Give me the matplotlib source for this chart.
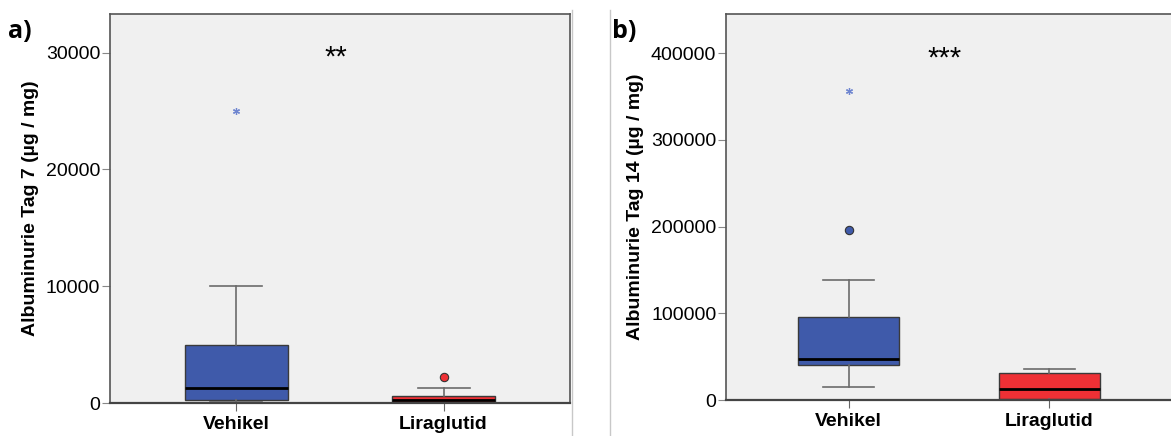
import matplotlib.pyplot as plt
from matplotlib.lines import Line2D

plt.rcParams['font.family'] = ['Liberation Sans', 'DejaVu Sans']

# Gruppen
groups = ['Vehikel', 'Liraglutid']
box_colors = ['#3F5AAA', '#EE3035']
star_color = '#6F86D0'

# Tag 7: [untere Antenne, Q1, Median, Q3, obere Antenne]
tag7_vehikel = [50, 230, 1300, 5000, 10000]
tag7_lira = [20, 100, 230, 600, 1300]
tag7_outliers = [[], [2260]]      # Kreise
tag7_extremes = [[25000], []]     # Sterne

# Tag 14
tag14_vehikel = [14600, 40700, 47300, 96000, 138800]
tag14_lira = [300, 800, 12700, 31100, 36100]
tag14_outliers = [[196000], []]
tag14_extremes = [[356800], []]

tag7_ticks = [0, 10000, 20000, 30000]
tag14_ticks = [0, 100000, 200000, 300000, 400000]


def make_stats(vals, label):
    lo, q1, med, q3, hi = vals
    return dict(whislo=lo, q1=q1, med=med, q3=q3, whishi=hi, fliers=[], label=label)


def draw_panel(ax, data, outliers, extremes, ticks, ymax, ylabel, sig):
    ax.set_facecolor('#F0F0F0')
    stats = [make_stats(v, g) for v, g in zip(data, groups)]
    bp = ax.bxp(stats, positions=[0, 1], widths=0.5, patch_artist=True,
                showfliers=False,
                boxprops=dict(edgecolor='#3a3a3a', linewidth=1.0),
                medianprops=dict(color='black', linewidth=2.0),
                whiskerprops=dict(color='#6b6b6b', linewidth=1.2),
                capprops=dict(color='#6b6b6b', linewidth=1.2),
                capwidths=0.25)
    for patch, c in zip(bp['boxes'], box_colors):
        patch.set_facecolor(c)
    for i in range(2):
        if outliers[i]:
            ax.plot([i] * len(outliers[i]), outliers[i], 'o', ms=6,
                    mfc=box_colors[i], mec='#333333', mew=0.8)
        if extremes[i]:
            ax.plot([i] * len(extremes[i]), extremes[i], marker=(6, 2, 0),
                    ls='none', ms=5, color=star_color, mew=0.9)
    ax.set_xlim(-0.61, 1.61)
    ax.set_ylim(0, ymax)
    ax.set_yticks(ticks)
    ax.set_yticklabels([str(t) for t in ticks])
    ax.set_xticks([0, 1])
    ax.set_xticklabels(groups, fontweight='bold', fontsize=14)
    ax.tick_params(axis='y', labelsize=14, length=6, color='#888888', pad=1)
    ax.tick_params(axis='x', length=6, color='#666666', pad=3)
    ax.set_ylabel(ylabel, fontweight='bold', fontsize=14, labelpad=5)
    for s in ['top', 'left', 'right']:
        ax.spines[s].set_color('#555555')
        ax.spines[s].set_linewidth(1.2)
    ax.spines['bottom'].set_color('#444444')
    ax.spines['bottom'].set_linewidth(1.6)
    ax.text(0.49, ticks[-1] * 0.985, sig, transform=ax.get_yaxis_transform(),
            fontsize=21, ha='center', va='center')


fig = plt.figure(figsize=(11.71, 4.36), dpi=100)
ax1 = fig.add_axes([110 / 1171, 33 / 436, 460 / 1171, 389 / 436])
ax2 = fig.add_axes([726 / 1171, 36 / 436, 446 / 1171, 386 / 436])

draw_panel(ax1, [tag7_vehikel, tag7_lira], tag7_outliers, tag7_extremes,
           tag7_ticks, 33300, 'Albuminurie Tag 7 (µg / mg)', '**')
draw_panel(ax2, [tag14_vehikel, tag14_lira], tag14_outliers, tag14_extremes,
           tag14_ticks, 445000, 'Albuminurie Tag 14 (µg / mg)', '***')

fig.text(8 / 1171, 1 - 32 / 436, 'a)', fontsize=18, fontweight='bold', va='center',
         family=['Open Sans', 'DejaVu Sans'])
fig.text(612 / 1171, 1 - 32 / 436, 'b)', fontsize=18, fontweight='bold', va='center',
         family=['Open Sans', 'DejaVu Sans'])

# duenne Trennlinien
fig.add_artist(Line2D([572 / 1171, 572 / 1171], [0, 1 - 10 / 436], color='#C8C8C8', lw=1))
fig.add_artist(Line2D([610 / 1171, 610 / 1171], [0, 1 - 10 / 436], color='#C8C8C8', lw=1))

fig.savefig('out.png', dpi=100)
